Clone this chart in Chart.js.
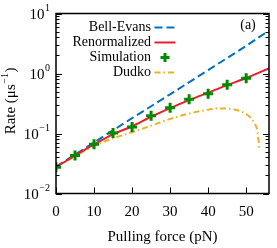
<!DOCTYPE html>
<html>
<head>
<meta charset="utf-8">
<script src="https://cdn.jsdelivr.net/npm/chart.js@4.4.1/dist/chart.umd.min.js"></script>
<style>
  html, body { margin: 0; padding: 0; background: #fff; }
  #wrap { width: 277px; height: 248px; }
</style>
</head>
<body>
<div id="wrap"><canvas id="myChart" width="277" height="248"></canvas></div>
<script>
// values
const forceTicks = [0, 10, 20, 30, 40, 50];
const rateTicks = [0.01, 0.1, 1, 10];
const rateExps = ['\u22122', '\u22121', '0', '1'];

const bellForce = [0, 10, 20, 30, 40, 50, 56];
const bellRate = [0.028, 0.071, 0.18, 0.45, 1.14, 2.88, 5.2];

const renormForce = [0, 5, 10, 15, 20, 25, 30, 35, 40, 45, 50, 56];
const renormRate = [0.0275, 0.043, 0.066, 0.097, 0.132, 0.19, 0.265, 0.36, 0.48, 0.64, 0.84, 1.22];

const simForce = [0, 5, 10, 15, 20, 25, 30, 35, 40, 45, 50];
const simRate = [0.0275, 0.043, 0.066, 0.102, 0.128, 0.198, 0.269, 0.372, 0.46, 0.65, 0.83];

const dudkoForce = [0, 5, 10, 15, 20, 25, 30, 35, 40, 42, 44, 47, 50, 52, 53, 53.5];
const dudkoRate = [0.0275, 0.042, 0.062, 0.083, 0.105, 0.135, 0.175, 0.215, 0.25, 0.262, 0.262, 0.25, 0.21, 0.155, 0.105, 0.053];

const legendNames = ['Bell-Evans', 'Renormalized', 'Simulation', 'Dudko'];

const serif = '"Liberation Serif", "Times New Roman", serif';

function pts(xs, ys) {
    return xs.map((v, i) => ({ x: v, y: ys[i] }));
}

const axesPlugin = {
    id: 'axesPlugin',
    afterDatasetsDraw(chart) {
        const ctx = chart.ctx;
        const a = chart.chartArea;
        const xs = chart.scales.x, ys = chart.scales.y;
        ctx.save();
        ctx.strokeStyle = '#000';
        ctx.fillStyle = '#000';

        // ticks on y (left + right), major and minor
        ctx.lineWidth = 1;
        for (let d = 0; d < rateTicks.length; d++) {
            for (let m = 1; m < 10; m++) {
                if (d === rateTicks.length - 1 && m > 1) break;
                const py = Math.round(ys.getPixelForValue(rateTicks[d] * m)) + 0.5;
                const len = m === 1 ? 6 : 3.5;
                ctx.beginPath();
                ctx.moveTo(a.left, py); ctx.lineTo(a.left + len, py);
                ctx.moveTo(a.right, py); ctx.lineTo(a.right - len, py);
                ctx.stroke();
            }
        }
        // ticks on x (bottom)
        forceTicks.forEach(t => {
            const px = Math.round(xs.getPixelForValue(t)) + 0.5;
            ctx.beginPath();
            ctx.moveTo(px, a.bottom); ctx.lineTo(px, a.bottom - 6);
            ctx.stroke();
        });

        // frame
        ctx.lineWidth = 1.5;
        ctx.strokeRect(a.left, a.top, a.right - a.left, a.bottom - a.top);

        // x tick labels
        ctx.font = '15px ' + serif;
        ctx.textAlign = 'center';
        ctx.textBaseline = 'middle';
        forceTicks.forEach(t => {
            ctx.fillText(String(t), xs.getPixelForValue(t), 212);
        });

        // y tick labels 10^n
        rateTicks.forEach((v, i) => {
            const py = ys.getPixelForValue(v);
            ctx.font = '10px ' + serif;
            const ew = ctx.measureText(rateExps[i]).width;
            ctx.textAlign = 'right';
            ctx.textBaseline = 'middle';
            ctx.fillText(rateExps[i], 50, py - 5);
            ctx.font = '15px ' + serif;
            ctx.fillText('10', 50 - ew - 0.5, py + 2);
        });

        // axis titles
        ctx.font = '15px ' + serif;
        ctx.textAlign = 'center';
        ctx.textBaseline = 'middle';
        ctx.fillText('Pulling force (pN)', (a.left + a.right) / 2, 237);

        ctx.save();
        ctx.translate(11, 101);
        ctx.rotate(-Math.PI / 2);
        ctx.textAlign = 'left';
        const p1 = 'Rate (\u03bcs', p2 = '\u22121', p3 = ')';
        ctx.font = '15px ' + serif;
        const w1 = ctx.measureText(p1).width, w3 = ctx.measureText(p3).width;
        ctx.font = '10px ' + serif;
        const w2 = ctx.measureText(p2).width;
        let sx = -(w1 + w2 + w3 + 1) / 2;
        ctx.font = '15px ' + serif;
        ctx.fillText(p1, sx, 0);
        ctx.font = '10px ' + serif;
        ctx.fillText(p2, sx + w1 + 0.5, -6);
        ctx.font = '15px ' + serif;
        ctx.fillText(p3, sx + w1 + w2 + 1, 0);
        ctx.restore();

        // panel label
        ctx.font = '14px ' + serif;
        ctx.textAlign = 'center';
        ctx.fillText('(a)', 248, 25);

        // legend: text right aligned, sample to the right
        const rows = [27.5, 42.5, 57.5, 72.5];
        chart.data.datasets.forEach((ds, i) => {
            const y = rows[i];
            ctx.font = '14px ' + serif;
            ctx.textAlign = 'right';
            ctx.fillStyle = '#000';
            ctx.fillText(legendNames[i], 151, y);
            if (ds.showLine === false) {
                ctx.strokeStyle = ds.borderColor;
                ctx.lineWidth = ds.borderWidth;
                ctx.beginPath();
                ctx.moveTo(165 - 4.5, y); ctx.lineTo(165 + 4.5, y);
                ctx.moveTo(165, y - 4.5); ctx.lineTo(165, y + 4.5);
                ctx.stroke();
            } else {
                ctx.strokeStyle = ds.borderColor;
                ctx.lineWidth = ds.borderWidth;
                ctx.setLineDash(ds.borderDash || []);
                ctx.beginPath();
                ctx.moveTo(154.5, y); ctx.lineTo(175.5, y);
                ctx.stroke();
                ctx.setLineDash([]);
            }
        });
        ctx.restore();
    }
};

new Chart(document.getElementById('myChart').getContext('2d'), {
    type: 'line',
    data: {
        datasets: [{
            label: 'Bell-Evans',
            data: pts(bellForce, bellRate),
            borderColor: '#0072bd',
            borderWidth: 2,
            borderDash: [8, 4],
            pointRadius: 0,
            tension: 0,
            order: 2
        }, {
            label: 'Renormalized',
            data: pts(renormForce, renormRate),
            borderColor: '#e8202a',
            borderWidth: 2,
            pointRadius: 0,
            cubicInterpolationMode: 'monotone',
            order: 1
        }, {
            label: 'Simulation',
            data: pts(simForce, simRate),
            showLine: false,
            borderColor: '#008a00',
            backgroundColor: '#008a00',
            borderWidth: 3,
            pointStyle: 'cross',
            pointRadius: 5,
            order: 0
        }, {
            label: 'Dudko',
            data: pts(dudkoForce, dudkoRate),
            borderColor: '#edb120',
            borderWidth: 2,
            borderDash: [6, 3, 1.5, 3],
            pointRadius: 0,
            cubicInterpolationMode: 'monotone',
            order: 3
        }]
    },
    options: {
        responsive: false,
        animation: false,
        devicePixelRatio: 1,
        layout: { padding: { top: 13.5, right: 7.5, left: 0, bottom: 0 } },
        plugins: {
            legend: { display: false },
            tooltip: { enabled: false }
        },
        scales: {
            x: {
                type: 'linear',
                min: 0,
                max: 56,
                grid: { display: false },
                border: { display: false },
                ticks: { display: false },
                afterFit: s => { s.height = 54.5; }
            },
            y: {
                type: 'logarithmic',
                min: 0.01,
                max: 10,
                grid: { display: false },
                border: { display: false },
                ticks: { display: false },
                afterFit: s => { s.width = 56; }
            }
        }
    },
    plugins: [axesPlugin]
});
</script>
</body>
</html>
